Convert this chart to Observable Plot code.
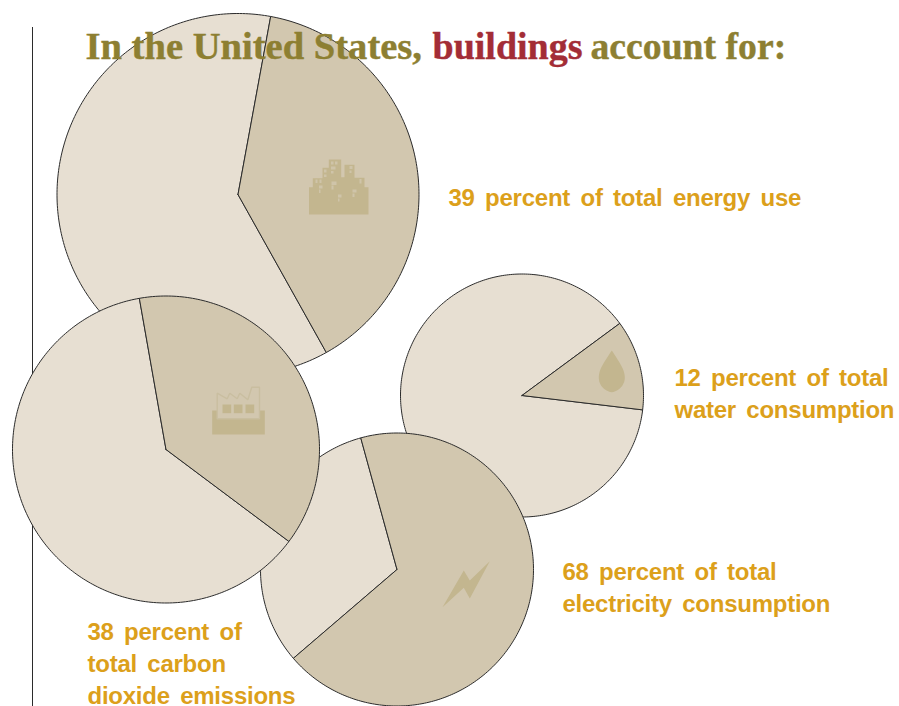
<!DOCTYPE html>
<html><head><meta charset="utf-8">
<script src="https://cdn.jsdelivr.net/npm/d3@7"></script>
<script src="https://cdn.jsdelivr.net/npm/@observablehq/plot@0.6"></script>
<style>
html,body{margin:0;padding:0;background:#fff}
g[font-size="24"] text{word-spacing:4px;letter-spacing:-.25px}
</style></head><body><div id="chart"></div>
<script>
// Chart values
const percents = [39, 12, 68, 38];
const startAngles = [10.4, 53.6, -15.4, -10];
const centerX = [237.5, 521.5, 396.5, 165.5];
const centerY = [194, 395, 569, 449];
const radii = [181, 121.5, 136.5, 153.5];
const callouts = [
  "39 percent of total energy use",
  "12 percent of total\nwater consumption",
  "68 percent of total\nelectricity consumption",
  "38 percent of\ntotal carbon\ndioxide emissions"
];
const calloutX = [448, 674, 562, 87];
const calloutY = [195, 391, 585, 661];
const titleParts = ["In the United States,", "buildings", "account for:"];
const titleX = [85, 432, 590];
const titleSizes = [38.6, 38, 37.7];
const titleColors = ["#8d7f32", "#a32d36", "#8d7f32"];

// Icon outlines
const cityShape = [[308.5,214],[308.5,186.7],[312.3,186.7],[312.3,177.7],[322,177.7],[322,167.3],[328.3,167.3],[328.3,159],[340.7,159],[340.7,176.7],[344,176.7],[344,164.3],[354,164.3],[354,177.3],[356,177.3],[356,177.3],[364,177.3],[364,186.7],[368,186.7],[368,214]];
const cityWindows = [[[315,179],[317,179],[317,182.5],[315,182.5]],[[319,179],[321,179],[321,182.5],[319,182.5]],[[323.5,169],[326,169],[326,172],[323.5,172]],[[323.5,174],[326,174],[326,176.5],[323.5,176.5]],[[330.5,161],[333,161],[333,164],[330.5,164]],[[334.5,161],[337,161],[337,164],[334.5,164]],[[330.5,166],[335,166],[335,169],[330.5,169]],[[330.5,170.5],[333,170.5],[333,173],[330.5,173]],[[349,165.5],[352,165.5],[352,168.5],[349,168.5]],[[349,170],[351,170],[351,172.5],[349,172.5]],[[359,178.5],[361,178.5],[361,183],[359,183]],[[318.5,185],[322,185],[322,188],[318.5,188]],[[318.5,189],[320,189],[320,192.5],[318.5,192.5]],[[331,181],[336,181],[336,184.5],[331,184.5]],[[331,185],[333,185],[333,189],[331,189]],[[337.5,194],[341,194],[341,197],[337.5,197]],[[337.5,198],[339,198],[339,201],[337.5,201]],[[352,189],[356,189],[356,192],[352,192]],[[352,193],[354,193],[354,196.5],[352,196.5]]];
const factoryBase = [[211.7,410],[216.7,410],[216.7,418.3],[259,418.3],[259,410],[264.3,410],[264.3,434],[211.7,434]];
const factoryOutline = [[216.7,418.3],[216.7,392.7],[226.7,398.3],[229.3,392.7],[236.7,398.3],[239.3,392.7],[247.3,399.3],[251.3,386.7],[259,386.7],[259,418.3],[216.7,418.3]];
const factoryWindows = [[[222,404],[230.7,404],[230.7,412.7],[222,412.7]],[[233.3,404],[242,404],[242,412.7],[233.3,412.7]],[[245,404],[253.7,404],[253.7,412.7],[245,412.7]]];
const boltShape = [[442,606.7],[463.3,570],[469.3,580],[489.3,560.7],[469.3,598],[463.3,587.3]];
const dropShape = [[611.3,350],[608,355],[603.5,362],[599.5,370],[598.3,378],[600,384],[604.5,389],[611.3,391.7],[618,389],[622.5,384],[624.3,378],[623,370],[619,362],[614.6,355]];

const sliceFill = "#d2c7af", restFill = "#e7dfd2", iconFill = "#c3b68f", iconPale = "#cfc4a9", iconLine = "#c9bea0", inkLine = "#2b2b2b";

function slicePoints(i, from, sweep) {
  const pts = [{x: centerX[i], y: centerY[i]}];
  const n = Math.ceil(sweep);
  for (let k = 0; k <= n; k++) {
    const a = (from + sweep * k / n) * Math.PI / 180;
    pts.push({x: centerX[i] + radii[i] * Math.sin(a), y: centerY[i] - radii[i] * Math.cos(a)});
  }
  pts.push(pts[0]);
  return pts;
}
const pieMarks = i => {
  const sweep = percents[i] * 3.6;
  const style = {x: "x", y: "y", stroke: inkLine, strokeWidth: 1, strokeLinejoin: "round"};
  return [
    Plot.line(slicePoints(i, startAngles[i] + sweep, 360 - sweep), {...style, fill: restFill}),
    Plot.line(slicePoints(i, startAngles[i], sweep), {...style, fill: sliceFill})
  ];
};
const shape = (pts, fill, extra = {}) => Plot.line([...pts, pts[0]], {x: d => d[0], y: d => d[1], fill, stroke: "none", ...extra});
const titleMark = i => Plot.text([titleParts[i]], {
  x: () => titleX[i], y: () => 46, text: d => d,
  textAnchor: "start", lineAnchor: "middle",
  fill: titleColors[i], stroke: titleColors[i], strokeWidth: 0.4,
  fontFamily: "Liberation Serif", fontWeight: 700, fontSize: titleSizes[i]
});

const chart = Plot.plot({
  width: 899, height: 706,
  margin: 0,
  x: {type: "linear", domain: [0, 899], range: [0, 899], axis: null},
  y: {type: "linear", domain: [0, 706], range: [0, 706], axis: null},
  style: {background: "#fff", overflow: "hidden"},
  marks: [
    Plot.ruleX([32], {y1: 27, y2: 706, stroke: inkLine, strokeWidth: 1}),
    pieMarks(0),
    shape(cityShape, iconFill),
    cityWindows.map(w => shape(w, iconPale)),
    pieMarks(1),
    shape(dropShape, iconFill, {curve: "catmull-rom-closed"}),
    pieMarks(2),
    shape(boltShape, iconFill),
    pieMarks(3),
    shape(factoryBase, iconFill),
    Plot.line(factoryOutline, {x: d => d[0], y: d => d[1], stroke: iconLine, strokeWidth: 1.4, strokeLinejoin: "miter"}),
    factoryWindows.map(w => shape(w, iconFill)),
    Plot.text(callouts, {
      x: (d, i) => calloutX[i], y: (d, i) => calloutY[i], text: d => d,
      textAnchor: "start", lineAnchor: "middle", lineHeight: 1.333,
      fill: "#dca01b", fontFamily: "Liberation Sans", fontWeight: 700, fontSize: 24
    }),
    titleMark(0), titleMark(1), titleMark(2)
  ]
});
document.getElementById("chart").append(chart);
</script></body></html>
